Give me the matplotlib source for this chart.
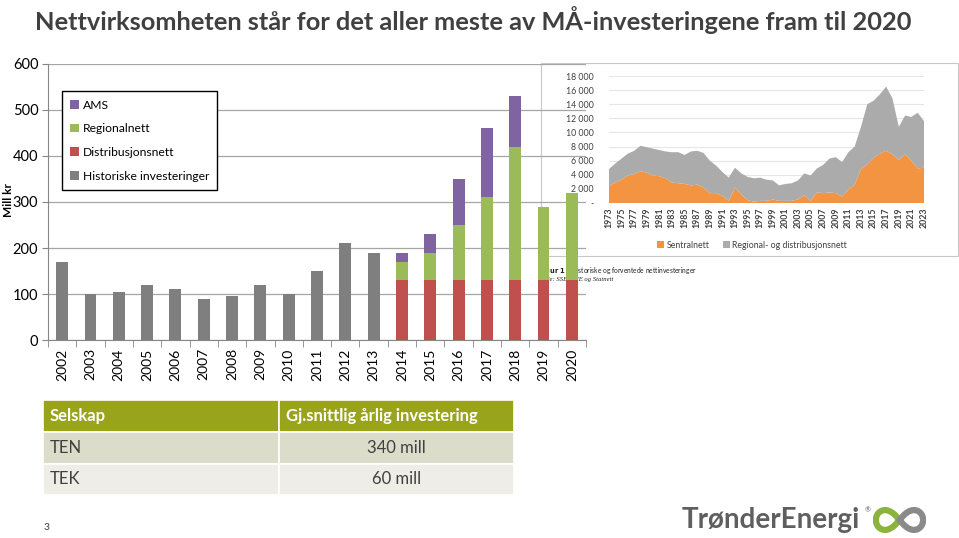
import numpy as np
import matplotlib
matplotlib.use("Agg")
import matplotlib.pyplot as plt
from matplotlib.patches import Rectangle
from matplotlib.ticker import FuncFormatter, MultipleLocator

plt.rcParams["font.family"] = ["Lato", "DejaVu Sans"]

# Main chart data (Mill kr)
years = [str(y) for y in range(2002, 2021)]
historiske = [170, 100, 105, 120, 110, 90, 95, 120, 100, 150, 210, 190,
              0, 0, 0, 0, 0, 0, 0]
distribusjonsnett = [0] * 12 + [130, 130, 130, 130, 130, 130, 130]
regionalnett = [0] * 12 + [40, 60, 120, 180, 290, 160, 190]
ams = [0] * 12 + [20, 40, 100, 150, 110, 0, 0]

# Inset chart data (historiske og forventede nettinvesteringer)
inset_years = list(range(1973, 2024))
sentralnett = [2400, 2900, 3300, 3900, 4100, 4500, 4300, 3900, 3800, 3500,
               2900, 2800, 2700, 2500, 2600, 2200, 1400, 1400, 1000, 300,
               2200, 1200, 400, 200, 300, 300, 500, 300, 300, 300,
               500, 1100, 300, 1500, 1400, 1500, 1400, 900, 1900, 2600,
               4800, 5500, 6400, 7000, 7400, 6900, 6100, 6900, 6000, 4900,
               5000]
totalt = [4800, 5600, 6300, 7000, 7400, 8100, 7900, 7700, 7500, 7300,
          7200, 7200, 6800, 7300, 7400, 7100, 6000, 5300, 4400, 3600,
          5000, 4200, 3700, 3500, 3600, 3300, 3200, 2500, 2700, 2800,
          3200, 4200, 3900, 4900, 5400, 6300, 6500, 5800, 7200, 8000,
          10800, 14000, 14500, 15400, 16500, 14800, 10800, 12400, 12200, 12800,
          11600]
regional_distribusjon = [t - s for t, s in zip(totalt, sentralnett)]

# Table data
table_header = ["Selskap", "Gj.snittlig årlig investering"]
selskaper = ["TEN", "TEK"]
snitt_investering = ["340 mill", "60 mill"]

title = "Nettvirksomheten står for det aller meste av MÅ-investeringene fram til 2020"

TXT = "#404040"
fig = plt.figure(figsize=(9.59, 5.38), dpi=100)
fig.patch.set_facecolor("white")

W, H = 959.0, 538.0


def fx(px):
    return px / W


def fy(py):
    return 1 - py / H


# Title
fig.text(fx(35), fy(20), title, fontsize=18.3, fontweight="bold", color=TXT,
         va="center", ha="left")

# Inset frame (pasted figure)
fig.patches.append(Rectangle((fx(541), fy(256)), fx(958) - fx(541), fy(63) - fy(256),
                             transform=fig.transFigure, facecolor="white",
                             edgecolor="#c8c8c8", linewidth=0.8, zorder=1))

# Inset chart
ax_in = fig.add_axes([fx(609), fy(203), fx(924) - fx(609), fy(76) - fy(203)])
ax_in.set_zorder(2)
ax_in.patch.set_alpha(0)
ax_in.stackplot(inset_years, sentralnett, regional_distribusjon,
                colors=["#f39442", "#ababab"],
                labels=["Sentralnett", "Regional- og distribusjonsnett"], zorder=2)
ax_in.set_xlim(1973, 2023)
ax_in.set_ylim(0, 18000)
ax_in.yaxis.set_major_locator(MultipleLocator(2000))
ax_in.yaxis.set_major_formatter(FuncFormatter(
    lambda v, p: "-" if v == 0 else f"{int(v):,}".replace(",", " ")))
ax_in.set_xticks(inset_years[::2])
ax_in.set_xticklabels([str(y) for y in inset_years[::2]], rotation=90,
                      fontsize=6.3, fontweight="bold", color=TXT)
ax_in.tick_params(axis="y", labelsize=6.3, colors=TXT, length=0, pad=11)
ax_in.tick_params(axis="x", length=0, pad=3)
ax_in.grid(axis="y", color="#e6e6e6", linewidth=0.8, zorder=0)
ax_in.set_axisbelow(True)
for s in ax_in.spines.values():
    s.set_visible(False)
ax_in.legend(ncol=2, loc="center", bbox_to_anchor=(fx(752), fy(245)),
             bbox_transform=fig.transFigure, frameon=False, fontsize=6.3,
             handlelength=0.8, handleheight=0.8, handletextpad=0.3,
             columnspacing=1.5, labelcolor=TXT)

# Caption under the inset
fig.text(fx(538), fy(270), r"$\bf{Figur\ 1:}$ Historiske og forventede nettinvesteringer",
         fontsize=4.8, color="#202020", va="center", ha="left", zorder=3)
fig.text(fx(538), fy(280), "Kilde: SSB, NVE og Statnett", fontsize=4.8,
         family="Liberation Serif", style="italic", color="#202020",
         va="center", ha="left", zorder=3)

# Main bar chart
ax = fig.add_axes([fx(48), fy(340), fx(586) - fx(48), fy(64) - fy(340)])
ax.set_zorder(5)
ax.patch.set_alpha(0)
x = np.arange(len(years))
bw = 0.42
hist = np.array(historiske)
dist = np.array(distribusjonsnett)
reg = np.array(regionalnett)
am = np.array(ams)
ax.bar(x, hist, bw, color="#7f7f7f", label="Historiske investeringer", zorder=3)
ax.bar(x, dist, bw, color="#c0504d", label="Distribusjonsnett", zorder=3)
ax.bar(x, reg, bw, bottom=dist, color="#9bbb59", label="Regionalnett", zorder=3)
ax.bar(x, am, bw, bottom=dist + reg, color="#8064a2", label="AMS", zorder=3)
ax.set_xlim(-0.5, len(years) - 0.5)
ax.set_ylim(0, 600)
ax.yaxis.set_major_locator(MultipleLocator(100))
ax.grid(axis="y", color="#a6a6a6", linewidth=0.9, zorder=0)
ax.set_axisbelow(True)
ax.set_xticks(x)
ax.set_xticklabels(years, rotation=90, fontsize=10, color="black")
ax.set_xticks(np.arange(-0.5, len(years), 1), minor=True)
ax.tick_params(axis="x", which="major", length=0, pad=6)
ax.tick_params(axis="x", which="minor", length=5, color="#868686")
ax.tick_params(axis="y", labelsize=10.5, length=4, color="#868686", pad=3)
for side in ("top", "right"):
    ax.spines[side].set_visible(False)
for side in ("left", "bottom"):
    ax.spines[side].set_color("#868686")
fig.text(fx(8), fy(200), "Mill kr", fontsize=8.5, fontweight="bold", rotation=90,
         va="center", ha="center", color="black")

handles, labels = ax.get_legend_handles_labels()
leg = ax.legend(handles[::-1], labels[::-1], loc="upper left",
                bbox_to_anchor=(0.026, 0.902), borderaxespad=0, fontsize=8.7,
                fancybox=False, edgecolor="black", framealpha=1,
                handlelength=0.7, handleheight=0.7, handletextpad=0.3,
                labelspacing=1.05, borderpad=0.7)
leg.get_frame().set_linewidth(1.0)

# Table
col_x = [43, 279, 514]
row_y = [400, 432, 464, 495]
row_colors = ["#9aa31c", "#dcdccb", "#eeeee6"]
rows = [table_header] + [[s, v] for s, v in zip(selskaper, snitt_investering)]
for r, row in enumerate(rows):
    for c in range(2):
        fig.patches.append(Rectangle((fx(col_x[c]), fy(row_y[r + 1])),
                                     fx(col_x[c + 1]) - fx(col_x[c]),
                                     fy(row_y[r]) - fy(row_y[r + 1]),
                                     transform=fig.transFigure,
                                     facecolor=row_colors[r], edgecolor="white",
                                     linewidth=1.2, zorder=1))
        yc = fy((row_y[r] + row_y[r + 1]) / 2)
        if r == 0:
            fig.text(fx(col_x[c] + 7), yc, row[c], fontsize=12, fontweight="bold",
                     color="white", va="center", ha="left")
        elif c == 0:
            fig.text(fx(col_x[c] + 7), yc, row[c], fontsize=12, color=TXT,
                     va="center", ha="left")
        else:
            fig.text(fx((col_x[1] + col_x[2]) / 2), yc, row[c], fontsize=12,
                     color=TXT, va="center", ha="center")

# Page number
fig.text(fx(47), fy(527), "3", fontsize=7.5, color=TXT, va="center", ha="center")

# Logo
fig.text(fx(682), fy(520), "TrønderEnergi", fontsize=20, fontweight="bold",
         color="#5f5f5f", va="center", ha="left")
fig.text(fx(865), fy(510), "®", fontsize=5, color="#5f5f5f", va="center", ha="left")
ax_logo = fig.add_axes([fx(873), fy(534), fx(926) - fx(873), fy(506) - fy(534)])
ax_logo.axis("off")
t = np.linspace(0, 2 * np.pi, 400)
lx = np.cos(t) / (1 + np.sin(t) ** 2)
ly = np.sin(t) * np.cos(t) / (1 + np.sin(t) ** 2)
left = lx < 0
ax_logo.plot(np.where(left, lx, np.nan), ly, color="#8cb43c", lw=4.5,
             solid_capstyle="round")
ax_logo.plot(np.where(~left, lx, np.nan), ly, color="#8a8a8a", lw=4.5,
             solid_capstyle="round")
ax_logo.set_xlim(-1.12, 1.12)
ax_logo.set_ylim(-0.5, 0.5)

fig.savefig("out.png", dpi=100)
